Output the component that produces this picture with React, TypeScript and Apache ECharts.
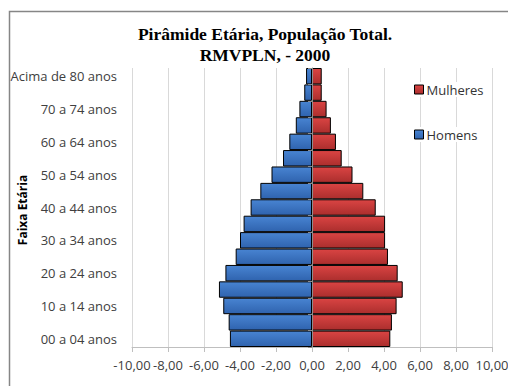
import React, { useEffect, useRef } from "react";
import * as echarts from "echarts";

// Age groups, youngest first (bottom of the pyramid)
const faixas = [
  "00 a 04 anos", "05 a 09 anos", "10 a 14 anos", "15 a 19 anos",
  "20 a 24 anos", "25 a 29 anos", "30 a 34 anos", "35 a 39 anos",
  "40 a 44 anos", "45 a 49 anos", "50 a 54 anos", "55 a 59 anos",
  "60 a 64 anos", "65 a 69 anos", "70 a 74 anos", "75 a 79 anos",
  "Acima de 80 anos",
];

// Share of total population (%), men plotted to the left as negatives
const homens = [
  -4.56, -4.63, -4.93, -5.17, -4.81, -4.24, -4.0, -3.8, -3.41, -2.87,
  -2.25, -1.61, -1.26, -0.9, -0.7, -0.43, -0.33,
];
const mulheres = [
  4.35, 4.44, 4.7, 5.04, 4.76, 4.22, 4.06, 4.06, 3.54, 2.85, 2.25, 1.65,
  1.33, 1.05, 0.81, 0.54, 0.54,
];

const tituloLinha1 = "Pirâmide Etária, População Total.";
const tituloLinha2 = "RMVPLN, - 2000";
const tituloEixoY = "Faixa Etária";

const FONT = "'Open Sans', sans-serif";

const azul = new echarts.graphic.LinearGradient(0, 0, 0, 1, [
  { offset: 0, color: "#4884d2" },
  { offset: 1, color: "#2f63ae" },
]);
const vermelho = new echarts.graphic.LinearGradient(0, 0, 0, 1, [
  { offset: 0, color: "#da4443" },
  { offset: 1, color: "#ab2e2d" },
]);

export default function App() {
  const ref = useRef<HTMLDivElement>(null);

  useEffect(() => {
    if (!ref.current) return;
    const chart = echarts.init(ref.current, null, { renderer: "svg" });

    const legendCommon = {
      orient: "vertical" as const,
      left: 412,
      itemWidth: 9,
      itemHeight: 9,
      itemGap: 4,
      icon: "rect",
      backgroundColor: "#fff",
      padding: [1, 2, 1, 2],
      itemStyle: { borderColor: "#000", borderWidth: 1 },
      textStyle: { fontFamily: FONT, fontSize: 13, color: "#333", padding: [0, 0, 0, -2] },
    };

    const tituloFont = "bold 17.5px 'Liberation Serif', serif";

    chart.setOption({
      animation: false,
      backgroundColor: "#fff",
      grid: { left: 132, right: 16, top: 68, bottom: 39, containLabel: false, outerBoundsMode: "none" },
      graphic: [
        {
          type: "rect",
          shape: { x: 9.5, y: 11.5, width: 700, height: 600 },
          style: { fill: "none", stroke: "#868686", lineWidth: 1.5 },
          silent: true,
        },
        {
          type: "text",
          x: 265,
          y: 34,
          style: {
            text: tituloLinha1,
            font: tituloFont,
            fill: "#000",
            textAlign: "center",
            textVerticalAlign: "middle",
          },
        },
        {
          type: "text",
          x: 265,
          y: 54.5,
          style: {
            text: tituloLinha2,
            font: tituloFont,
            fill: "#000",
            textAlign: "center",
            textVerticalAlign: "middle",
          },
        },
        {
          type: "text",
          x: 22,
          y: 210,
          rotation: Math.PI / 2,
          style: {
            text: tituloEixoY,
            font: `bold 12px ${FONT}`,
            fill: "#000",
            textAlign: "center",
            textVerticalAlign: "middle",
          },
        },
      ],
      legend: [
        { ...legendCommon, top: 82, data: ["Mulheres"] },
        { ...legendCommon, top: 127, data: ["Homens"] },
      ],
      xAxis: {
        type: "value",
        min: -10,
        max: 10,
        interval: 2,
        axisLine: { show: true, lineStyle: { color: "#bfbfbf" } },
        axisTick: { show: true, length: 5, lineStyle: { color: "#bfbfbf" } },
        splitLine: { show: true, lineStyle: { color: "#d9d9d9" } },
        axisLabel: {
          fontFamily: FONT,
          fontSize: 13,
          color: "#404040",
          margin: 11,
          formatter: (v: number) => v.toFixed(2).replace(".", ","),
        },
      },
      yAxis: [
        {
          type: "category",
          data: faixas,
          position: "left",
          axisLine: { show: false, onZero: false },
          axisTick: { show: false },
          axisLabel: {
            interval: 1,
            fontFamily: FONT,
            fontSize: 13,
            color: "#404040",
            margin: 15,
          },
        },
        {
          type: "category",
          data: faixas,
          position: "left",
          z: 5,
          axisLine: { show: true, onZero: true, lineStyle: { color: "#8c8c8c" } },
          axisTick: { show: true, interval: 0, length: 4, lineStyle: { color: "#8c8c8c" } },
          axisLabel: { show: false },
        },
      ],
      series: [
        {
          name: "Homens",
          type: "bar",
          data: homens,
          barCategoryGap: "0%",
          barGap: "-100%",
          itemStyle: { color: azul, borderColor: "#000", borderWidth: 1 },
        },
        {
          name: "Mulheres",
          type: "bar",
          data: mulheres,
          barCategoryGap: "0%",
          barGap: "-100%",
          itemStyle: { color: vermelho, borderColor: "#000", borderWidth: 1 },
        },
      ],
    });

    return () => chart.dispose();
  }, []);

  return (
    <div
      ref={ref}
      style={{ position: "fixed", left: 0, top: 0, width: 508, height: 386 }}
    />
  );
}
